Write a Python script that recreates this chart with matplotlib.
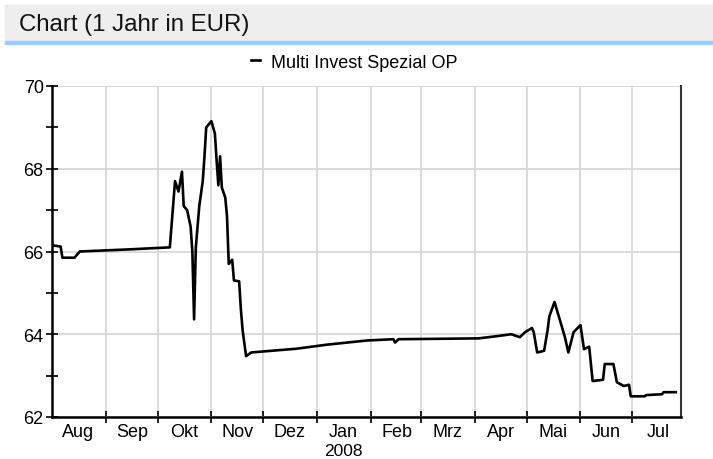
import datetime
import matplotlib
matplotlib.use('Agg')
import matplotlib.pyplot as plt
import matplotlib.dates as mdates
from matplotlib.patches import Rectangle
import numpy as np

plt.rcParams['font.family'] = ['Liberation Sans', 'DejaVu Sans']

# price series
dates = ['2007-08-01', '2007-08-06', '2007-08-07', '2007-08-14', '2007-08-17',
         '2007-09-14', '2007-10-08', '2007-10-11', '2007-10-13', '2007-10-15',
         '2007-10-16', '2007-10-18', '2007-10-20', '2007-10-21', '2007-10-22',
         '2007-10-23', '2007-10-25', '2007-10-27', '2007-10-28', '2007-10-29',
         '2007-11-01', '2007-11-03', '2007-11-04', '2007-11-05', '2007-11-06',
         '2007-11-07', '2007-11-09', '2007-11-10', '2007-11-11', '2007-11-13',
         '2007-11-14', '2007-11-17', '2007-11-18', '2007-11-19', '2007-11-21',
         '2007-11-24', '2007-12-20', '2008-01-07', '2008-01-30', '2008-02-14',
         '2008-02-15', '2008-02-17', '2008-04-03', '2008-04-13', '2008-04-22',
         '2008-04-27', '2008-04-30', '2008-05-04', '2008-05-05', '2008-05-07',
         '2008-05-11', '2008-05-13', '2008-05-14', '2008-05-17', '2008-05-20',
         '2008-05-23', '2008-05-25', '2008-05-28', '2008-06-01', '2008-06-03',
         '2008-06-06', '2008-06-08', '2008-06-14', '2008-06-15', '2008-06-20',
         '2008-06-22', '2008-06-26', '2008-06-29', '2008-06-30', '2008-07-08',
         '2008-07-09', '2008-07-18', '2008-07-19', '2008-07-26']
values = [66.15, 66.12, 65.85, 65.85, 66.0,
          66.05, 66.1, 67.7, 67.45, 67.93,
          67.1, 67.0, 66.6, 66.0, 64.36,
          66.1, 67.1, 67.7, 68.3, 69.0,
          69.15, 68.85, 68.2, 67.6, 68.3,
          67.55, 67.3, 66.85, 65.7, 65.8,
          65.3, 65.28, 64.6, 64.1, 63.47,
          63.56, 63.65, 63.75, 63.85, 63.88,
          63.8, 63.88, 63.9, 63.95, 64.0,
          63.93, 64.05, 64.15, 64.05, 63.56,
          63.6, 64.1, 64.43, 64.78, 64.36,
          63.93, 63.56, 64.05, 64.22, 63.64,
          63.7, 62.87, 62.9, 63.28, 63.28,
          62.84, 62.75, 62.78, 62.5, 62.5,
          62.53, 62.55, 62.6, 62.6]
series_name = 'Multi Invest Spezial OP'
month_labels = ['Aug', 'Sep', 'Okt', 'Nov', 'Dez', 'Jan', 'Feb', 'Mrz',
                'Apr', 'Mai', 'Jun', 'Jul']
y_ticks = [62, 64, 66, 68, 70]

x = [datetime.datetime.strptime(d, '%Y-%m-%d') for d in dates]

W, H = 713, 460
fig = plt.figure(figsize=(W / 100, H / 100), dpi=100)

# header bar
fig.patches.append(Rectangle((5 / W, 1 - 42 / H), 1 - 5 / W, 36 / H,
                             transform=fig.transFigure, color='#eeeeee', zorder=0))
fig.patches.append(Rectangle((5 / W, 1 - 45 / H), 1 - 5 / W, 3 / H,
                             transform=fig.transFigure, color='#99ccff', zorder=1))
fig.text(19 / W, 1 - 25 / H, 'Chart (1 Jahr in EUR)', fontsize=17.3,
         ha='left', va='center', color='#111111')

ax = fig.add_axes([52 / W, 1 - 418 / H, (681 - 52) / W, (418 - 87) / H])
ax.plot(x, values, color='black', linewidth=1.9, label=series_name)

ax.set_xlim(datetime.datetime(2007, 8, 1), datetime.datetime(2008, 7, 29))
ax.set_ylim(62, 70)

# month boundaries as major ticks, labels in the middle of each month
month_starts = [datetime.datetime(2007 + (m + 7) // 12, (m + 7) % 12 + 1, 1) for m in range(1, 12)]
mids = [datetime.datetime(2007 + (m + 7) // 12, (m + 7) % 12 + 1, 16) for m in range(12)]
ax.set_xticks(month_starts)
ax.set_xticklabels([])
ax.set_xticks(mids, minor=True)
ax.set_xticklabels(month_labels, minor=True, fontsize=13)
ax.tick_params(axis='x', which='minor', length=0, pad=4)
ax.tick_params(axis='x', which='major', direction='inout', length=8, width=1.2)

ax.set_yticks(y_ticks)
ax.set_yticklabels([str(v) for v in y_ticks], fontsize=13)
ax.set_yticks([63, 65, 67, 69], minor=True)
ax.tick_params(axis='y', which='both', direction='inout', length=8, width=1.2, pad=2)

ax.grid(True, which='major', color='#d8d8d8', linewidth=1.3)
ax.set_axisbelow(True)

for side in ['left', 'bottom']:
    ax.spines[side].set_linewidth(1.8)
    ax.spines[side].set_color('black')
ax.spines['right'].set_color('#333333')
ax.spines['right'].set_linewidth(1.5)
ax.spines['top'].set_visible(False)

ax.text(mdates.date2num(datetime.datetime(2008, 1, 16)), -0.1, '2008',
        transform=ax.get_xaxis_transform(), ha='center', va='center', fontsize=12.5)

ax.legend(loc='center', bbox_to_anchor=(354 / W, 1 - 63 / H),
          bbox_transform=fig.transFigure, frameon=False, fontsize=13,
          handlelength=0.5, handletextpad=0.6)

fig.savefig('out.png', dpi=100)
